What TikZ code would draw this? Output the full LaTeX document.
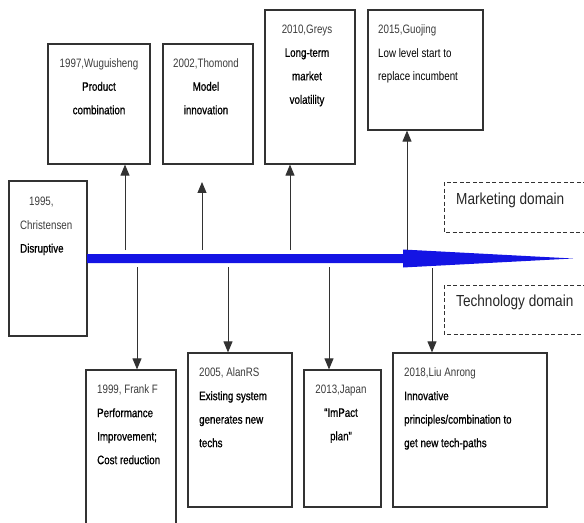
\documentclass[tikz,border=0pt]{standalone}
\usepackage{fontspec}
\setmainfont{Liberation Sans}[FakeStretch=0.8]
\newfontfamily\bodyf{Liberation Sans}[FakeStretch=0.8,FakeBold=0.8]
\newfontfamily\domf{Liberation Sans}[FakeStretch=0.85]
\usetikzlibrary{arrows.meta}
\definecolor{lineg}{RGB}{50,50,50}
\definecolor{yearg}{RGB}{60,60,60}
\definecolor{tlblue}{RGB}{20,20,228}
\tikzset{
  box/.style={draw=lineg,line width=1.2bp,inner sep=0},
  dline/.style={draw=lineg,line width=0.9bp,dash pattern=on 4bp off 2.5bp},
  txt/.style={inner sep=0,font=\fontsize{12.2bp}{23.5bp}\selectfont},
  dtxt/.style={inner sep=0,anchor=west,font=\domf\fontsize{16bp}{18bp}\selectfont,text=black!85},
  conn/.style={draw=lineg,line width=0.9bp,-{Triangle[width=9bp,length=11bp]}}
}
\newcommand{\yr}[1]{{\color{yearg}#1}}
\newcommand{\bd}[1]{{\bodyf #1}}
\begin{document}
\begin{tikzpicture}[x=1bp,y=-1bp]
\useasboundingbox (0,0) rectangle (584,523);
% boxes
\node[box,minimum width=102bp,minimum height=120bp] (b97) at (99,104) {};
\node[box,minimum width=90bp,minimum height=120bp] (b02) at (208,104) {};
\node[box,minimum width=90bp,minimum height=154bp] (b10) at (310,87) {};
\node[box,minimum width=115bp,minimum height=120bp] (b15) at (425.5,70) {};
\node[box,minimum width=78bp,minimum height=155bp] (b95) at (48,258.5) {};
\node[box,minimum width=90bp,minimum height=170bp] (b99) at (131,455) {};
\node[box,minimum width=104bp,minimum height=154bp] (b05) at (240,430) {};
\node[box,minimum width=77bp,minimum height=137bp] (b13) at (342.5,438.5) {};
\node[box,minimum width=154bp,minimum height=154bp] (b18) at (470,430) {};
% dashed domain frames (open to the right edge)
\coordinate (m1) at (600,182);
\coordinate (m2) at (444,182);
\coordinate (m3) at (444,232);
\coordinate (m4) at (600,232);
\coordinate (k1) at (600,285);
\coordinate (k2) at (444,285);
\coordinate (k3) at (444,334);
\coordinate (k4) at (600,334);
\draw[dline] (m1) -- (m2) -- (m3) -- (m4);
\draw[dline] (k1) -- (k2) -- (k3) -- (k4);
% texts
\node[txt,anchor=north,align=center] (t97) at (99,58.2) {\yr{1997,Wuguisheng}\\\bd{Product}\\\bd{combination}};
\node[txt,anchor=north,align=center] (t02) at (206,58.2) {\yr{2002,Thomond}\\\bd{Model}\\\bd{innovation}};
\node[txt,anchor=north,align=center] (t10) at (307,24.6) {\yr{2010,Greys}\\\bd{Long-term}\\\bd{market}\\\bd{volatility}};
\node[txt,anchor=north west,align=left] (t15) at (378,24.6) {\yr{2015,Guojing}\\Low level start to\\replace incumbent};
\node[txt,anchor=north west,align=left] (t95) at (20,196.8) {\hspace*{9bp}\yr{1995,}\\\yr{Christensen}\\\bd{Disruptive}};
\node[txt,anchor=north west,align=left] (t99) at (97,384.6) {\yr{1999, Frank F}\\\bd{Performance}\\\bd{Improvement;}\\\bd{Cost reduction}};
\node[txt,anchor=north west,align=left] (t05) at (199,367.6) {\yr{2005, AlanRS}\\\bd{Existing system}\\\bd{generates new}\\\bd{techs}};
\node[txt,anchor=north,align=center] (t13) at (341,384.6) {\yr{2013,Japan}\\\bd{“ImPact}\\\bd{plan”}};
\node[txt,anchor=north west,align=left] (t18) at (404,367.6) {\yr{2018,Liu Anrong}\\\bd{Innovative}\\\bd{principles/combination to}\\\bd{get new tech-paths}};
\node[dtxt] (tm) at (456,200) {Marketing domain};
\node[dtxt] (tt) at (456,302) {Technology domain};
% timeline arrow
\fill[tlblue] (87,254) -- (403,254) -- (403,249.5) -- (573,258.5) -- (403,267.5) -- (403,263) -- (87,263) -- cycle;
% connector anchors on the timeline
\coordinate (u1) at (125,250);
\coordinate (u2) at (202,250);
\coordinate (u2e) at (202,182);
\coordinate (u3) at (290,250);
\coordinate (u4) at (407,250);
\coordinate (d1) at (137,267);
\coordinate (d2) at (228,267);
\coordinate (d3) at (329,267);
\coordinate (d4) at (432,268);
\draw[conn] (u1) -- (u1 |- b97.south);
\draw[conn] (u2) -- (u2e);
\draw[conn] (u3) -- (u3 |- b10.south);
\draw[conn] (u4) -- (u4 |- b15.south);
\draw[conn] (d1) -- (d1 |- b99.north);
\draw[conn] (d2) -- (d2 |- b05.north);
\draw[conn] (d3) -- (d3 |- b13.north);
\draw[conn] (d4) -- (d4 |- b18.north);
\end{tikzpicture}
\end{document}
